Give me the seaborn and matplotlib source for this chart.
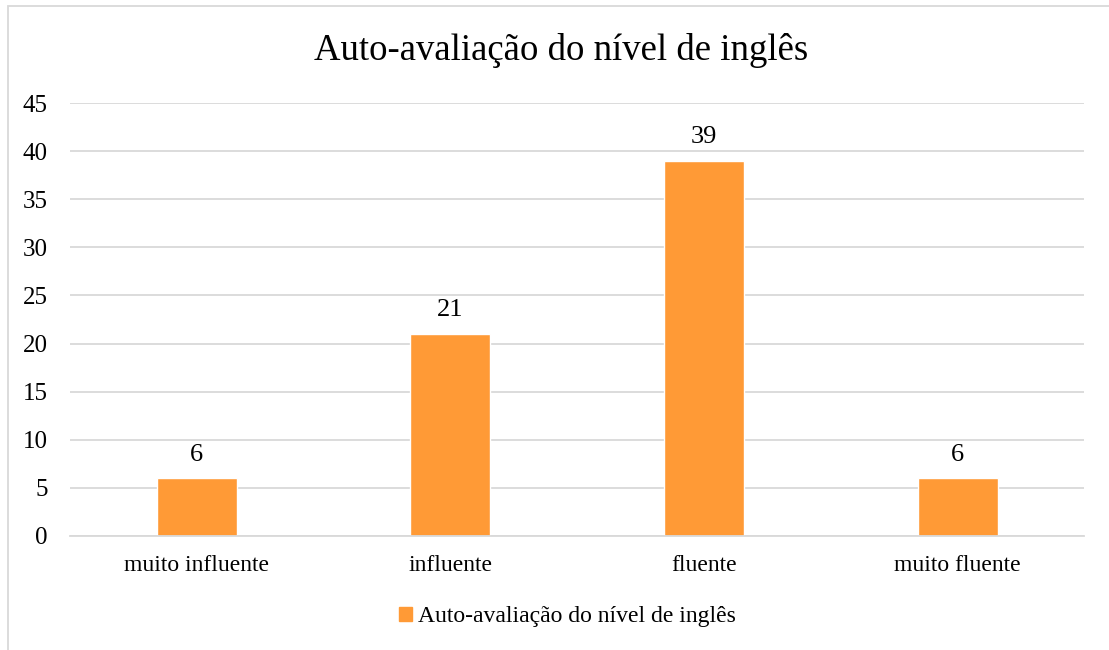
import pandas as pd
import matplotlib.pyplot as plt
import seaborn as sns
from matplotlib.patches import Rectangle

categorias = ['muito influente', 'influente', 'fluente', 'muito fluente']
respostas = [6, 21, 39, 6]
titulo = 'Auto-avaliação do nível de inglês'

df = pd.DataFrame({'nivel': categorias, 'n': respostas})

sns.set_style('white')
plt.rcParams['font.family'] = ['Liberation Serif', 'DejaVu Serif']
plt.rcParams['text.color'] = 'black'

fig = plt.figure(figsize=(11.09, 6.5), dpi=100)
ax = fig.add_axes([0.0631, 0.1754, 0.9147, 0.6661])

cor = '#FF9A36'
sns.barplot(data=df, x='nivel', y='n', color=cor, saturation=1, width=0.315, ax=ax)

ax.set_ylim(0, 45)
ax.set_xlim(-0.5, 3.5)
ax.set_yticks(range(0, 46, 5))
ax.yaxis.grid(True, color='#D9D9D9', linewidth=1.3)
ax.set_axisbelow(True)
for s in ['top', 'right', 'left']:
    ax.spines[s].set_visible(False)
ax.spines['bottom'].set_color('#D9D9D9')
ax.spines['bottom'].set_linewidth(1.3)
ax.tick_params(axis='both', length=0, colors='black')
ax.tick_params(axis='x', labelsize=17, pad=14)
ax.tick_params(axis='y', labelsize=18, pad=16)
ax.set_xlabel('')
ax.set_ylabel('')

for c in ax.containers:
    ax.bar_label(c, fmt='%d', padding=9, fontsize=19)

fig.text(0.506, 0.922, titulo, ha='center', va='center', fontsize=26.5)

ax.legend(handles=[Rectangle((0, 0), 1, 1, color=cor)], labels=[titulo],
          loc='center', bbox_to_anchor=(0.512, 0.051), bbox_transform=fig.transFigure,
          frameon=False, fontsize=17, handlelength=0.55, handleheight=0.55,
          handletextpad=0.25)

# borda do gráfico (cortada na imagem original)
fig.add_artist(Rectangle((8 / 1109, -0.05), 1.2, 0.05 + (650 - 6) / 650,
                         transform=fig.transFigure, fill=False,
                         edgecolor='#D9D9D9', linewidth=1.3))

fig.savefig('out.png', dpi=100)
